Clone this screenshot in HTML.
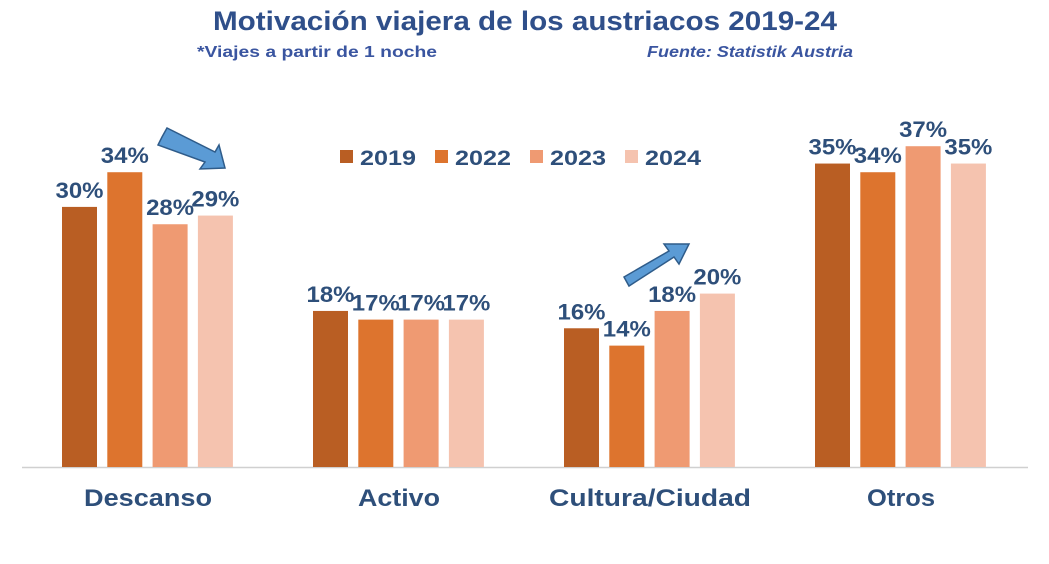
<!DOCTYPE html>
<html><head><meta charset="utf-8"><style>
body{margin:0;background:#fff;}
svg{display:block;font-family:"Liberation Sans",sans-serif;font-weight:bold;}
</style></head><body>
<svg id="chart" width="1049" height="564">
<text x="213" y="30" textLength="624" lengthAdjust="spacingAndGlyphs" font-size="27" fill="#2F4F8A">Motivación viajera de los austriacos 2019-24</text>
<text x="197" y="57" textLength="240" lengthAdjust="spacingAndGlyphs" font-size="16" fill="#3A55A0">*Viajes a partir de 1 noche</text>
<text x="647" y="57" textLength="206" lengthAdjust="spacingAndGlyphs" font-size="16" font-style="italic" fill="#3A55A0">Fuente: Statistik Austria</text>
<line x1="22" y1="467.5" x2="1028" y2="467.5" stroke="#d0d0d0" stroke-width="1.5"/>
<g id="bars"></g>
<g id="legend"></g>
<polygon points="162,137 167,128 215,152 219,145 225,168 200,169 205,162 158,145" fill="#5B9BD5" stroke="#2F5C8A" stroke-width="1.5"/>
<polygon points="624,277 629,286 674,257 679,264 689,244 664,244 669,251 624,277" fill="#5B9BD5" stroke="#2F5C8A" stroke-width="1.5"/>
</svg>
<script>
const categories=["Descanso","Activo","Cultura/Ciudad","Otros"];
const years=["2019","2022","2023","2024"];
const s2019=[30,18,16,35];
const s2022=[34,17,14,34];
const s2023=[28,17,18,37];
const s2024=[29,17,20,35];
const series=[s2019,s2022,s2023,s2024];
const colors=["#B95E23","#DD742E","#EF9A72","#F5C3AF"];
const base=467, scale=8.67;
const y=v=>base-v*scale;
const groupX=i=>148+i*251;
const ns="http://www.w3.org/2000/svg";
const bars=document.getElementById('bars');
function mk(t,a){const e=document.createElementNS(ns,t);for(const k in a)e.setAttribute(k,a[k]);return e;}
categories.forEach((c,i)=>{
  series.forEach((s,j)=>{
    const x=groupX(i)-86+j*45.3;
    const r=mk('rect',{x:x,y:y(s[i]),width:35,height:base-y(s[i]),fill:colors[j]});
    
    
    bars.appendChild(r);
    const t=mk('text',{x:x+17.5,y:y(s[i])-9,'text-anchor':'middle','font-size':22,textLength:48,lengthAdjust:'spacingAndGlyphs',fill:'#2E4F7A'});
    t.textContent=s[i]+'%';
    
    
    bars.appendChild(t);
  });
  const l=mk('text',{x:groupX(i),y:506,'text-anchor':'middle','font-size':24,fill:'#2E4F7A'});
  l.textContent=c;
  
  
  l.setAttribute('textLength',[128,82,202,68][i]);
  l.setAttribute('lengthAdjust','spacingAndGlyphs');
  bars.appendChild(l);
});
const lg=document.getElementById('legend');
years.forEach((yr,j)=>{
  const x=340+j*95;
  const g=mk('g',{});
  
  
  g.appendChild(mk('rect',{x:x,y:150,width:13,height:13,fill:colors[j]}));
  const t=mk('text',{x:x+20,y:165,'font-size':21,textLength:56,lengthAdjust:'spacingAndGlyphs',fill:'#2E4F7A'});
  t.textContent=yr;g.appendChild(t);
  lg.appendChild(g);
});
</script>
</body></html>
